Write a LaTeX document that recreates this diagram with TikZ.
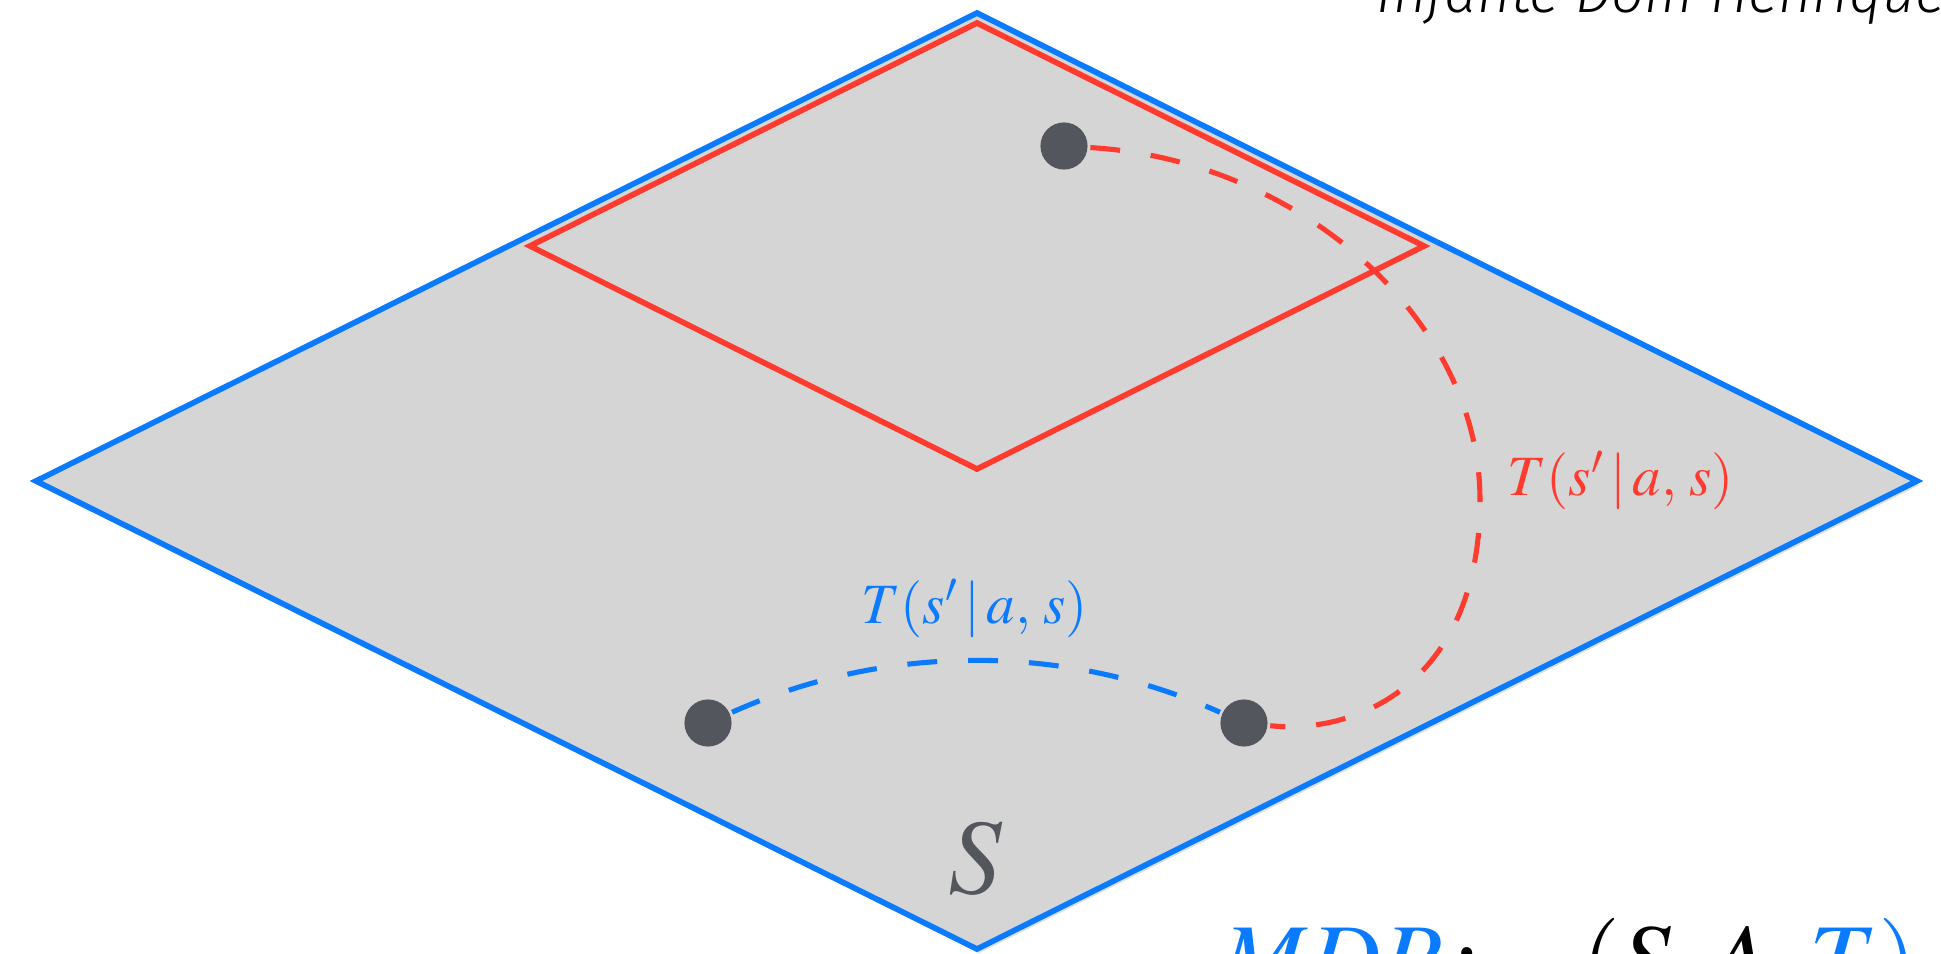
\documentclass[tikz,border=0pt]{standalone}
\usepackage{mathptmx}
\usepackage[no-math]{fontspec}
\newfontfamily\streetfont{Fira Sans}[ItalicFont={Fira Sans Light Italic}]
\usetikzlibrary{shadows}
\definecolor{sblue}{HTML}{0A7AFF}
\definecolor{sred}{HTML}{FF3B30}
\definecolor{sgray}{HTML}{D5D5D5}
\definecolor{sdot}{HTML}{53565C}

\begin{document}
\begin{tikzpicture}[x=0.01cm, y=-0.01cm, line width=1.6pt,
    state/.style={circle, fill=sdot, inner sep=0pt, minimum size=13.4pt},
    hop/.style={line width=1.45pt, dash pattern=on 8.5pt off 8.8pt},
    tlabel/.style={anchor=base, inner sep=0pt, font=\fontsize{16.2}{19}\selectfont}]
  \useasboundingbox (0,0) rectangle (1941,954);
  \clip (0,0) rectangle (1941,954);

  % outer plane: the state space
  \coordinate (N) at (977,13);
  \coordinate (E) at (1917,481);
  \coordinate (B) at (977,949);
  \coordinate (W) at (36,481);
  % inner plane
  \coordinate (rN) at (977,23);
  \coordinate (rE) at (1424,246);
  \coordinate (rB) at (977,469);
  \coordinate (rW) at (530,246);

  \filldraw[sblue, fill=sgray, line join=miter,
    drop shadow={opacity=0.25, shadow xshift=0.6pt, shadow yshift=-1.2pt}]
    (N) -- (E) -- (B) -- (W) -- cycle;
  \draw[sred, line join=miter] (rN) -- (rE) -- (rB) -- (rW) -- cycle;

  % states
  \node[state] (s1) at (708,723) {};
  \node[state] (s2) at (1244,723) {};
  \node[state] (s3) at (1064,146) {};
  \coordinate (K) at (1480,500);

  % transitions
  \draw[sblue, hop] (s1) .. controls (887,643) and (1065,643) .. (s2);
  \draw[sred, hop] (s3) .. controls (1300,160) and (1480,320) .. (K)
     .. controls (1480,680) and (1360,735) .. (s2);

  \node[tlabel, sred] (tr) at (1621,495) {$T(s'\,|\,a,\, s)$};
  \node[tlabel, sblue] (tb) at (975,623) {$T(s'\,|\,a,\, s)$};
  \node[sdot, anchor=base, inner sep=0pt, font=\fontsize{30.4}{36}\selectfont] (sl) at (976,893) {$S$};

  \node[anchor=base west, inner sep=0pt, font=\fontsize{28.5}{34}\selectfont] (mdp) at (1218,993)
     {${\color{sblue}MDP}\,{:}\quad(S, A, {\color{sblue}T)}$};
  \node[anchor=base west, inner sep=0pt, font={\streetfont\fontsize{16.5}{20}\selectfont\itshape}] (hq) at (1374,12)
     {Infante Dom Henrique};
\end{tikzpicture}
\end{document}
